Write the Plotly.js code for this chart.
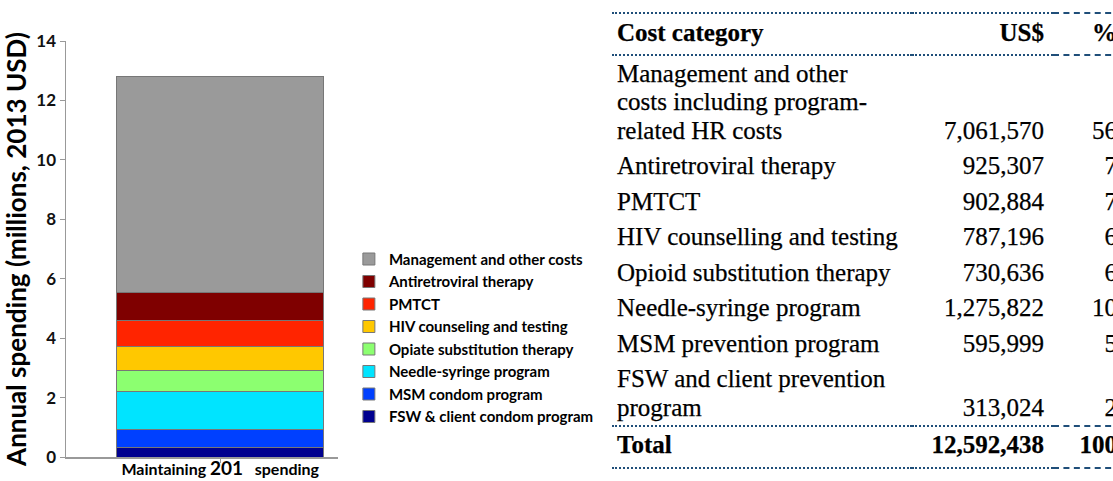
<!DOCTYPE html>
<html><head><meta charset="utf-8">
<script src="https://cdn.plot.ly/plotly-3.0.1.min.js"></script>
<style>
html,body{margin:0;padding:0;width:1113px;height:481px;overflow:hidden;background:#fff;}
#chart{position:absolute;left:0;top:0;width:640px;height:481px;}
#tblwrap{position:absolute;left:612px;top:12px;width:540px;background:#fff;}
#tbl{border-collapse:collapse;font-family:"Liberation Serif",serif;font-size:25px;color:#000;table-layout:fixed;width:520px;-webkit-text-stroke:0.25px #000;}
#tbl td,#tbl th{padding:4px 0 3px 0;line-height:28.5px;vertical-align:bottom;white-space:pre;box-sizing:border-box;}
#tbl th{font-weight:bold;padding-top:5px;padding-bottom:6px;}
#tbl .c1{padding-left:5px;text-align:left;}
#tbl .c2{padding-right:9px;text-align:right;}
#tbl .c3{padding-right:15px;text-align:right;}
#tbl tr.hd th,#tbl tr.tot td{border-top:2px dotted #1f4e79;border-bottom:2px dotted #1f4e79;}
#tbl tr.hd th.c3,#tbl tr.tot td.c3{border-top:2px dashed #1f4e79;border-bottom:2px dashed #1f4e79;}
#tbl tr.tot td{font-weight:bold;padding-bottom:7px;}
</style>
</head><body>
<div id="chart"></div>
<div id="tblwrap"><table id="tbl"><colgroup><col style="width:300px"><col style="width:141px"><col style="width:79px"></colgroup></table></div>
<script>
// ---- chart data (millions, 2013 USD), bottom to top ----
const scenario = ["Maintaining 201 spending"];
const seriesNames = ["FSW & client condom program","MSM condom program","Needle-syringe program","Opiate substitution therapy","HIV counseling and testing","PMTCT","Antiretroviral therapy","Management and other costs"];
const seriesValues = [0.31, 0.60, 1.28, 0.73, 0.79, 0.90, 0.93, 7.26];
const seriesColors = ["#00008f","#0040ff","#00e4ff","#8cff70","#ffc800","#ff2400","#7f0000","#9a9a9a"];
const yTicks = [0,2,4,6,8,10,12,14];

// ---- table data ----
const tableHeader = ["Cost category","US$","%"];
const tableCategories = ["Management and other\ncosts including program-\nrelated HR costs","Antiretroviral therapy","PMTCT","HIV counselling and testing","Opioid substitution therapy","Needle-syringe program","MSM prevention program","FSW and client prevention\nprogram"];
const tableUSD = ["7,061,570","925,307","902,884","787,196","730,636","1,275,822","595,999","313,024"];
const tablePct = ["56","7","7","6","6","10","5","2"];
const tableTotal = ["Total","12,592,438","100"];

const traces = seriesNames.map((n,i)=>({
  type:'bar', name:n, x:scenario, y:[seriesValues[i]], width:[1],
  legendgroup:n, legendrank: 100 - i,
  marker:{color:seriesColors[i], line:{color:'#777', width:1}},
  hoverinfo:'skip'
}));

const layout = {
  width:640, height:481,
  margin:{l:66, r:302, t:41, b:24},
  barmode:'stack',
  paper_bgcolor:'#fff', plot_bgcolor:'#fff',
  showlegend:true,
  legend:{x:1.04, xanchor:'left', y:0.515, yanchor:'top', traceorder:'normal', tracegroupgap:2,
    bgcolor:'rgba(0,0,0,0)', font:{family:'Lato', size:15, weight:'bold', color:'#000'}},
  xaxis:{type:'category', range:[-0.744,0.568], showline:true, linecolor:'#999', linewidth:1.5,
    ticks:'outside', ticklen:4, tickcolor:'#999', showgrid:false, zeroline:false,
    ticklabelstandoff:-7,
    tickvals:scenario,
    ticktext:[scenario[0].replace('201 ', "<span style='font-size:19px'>201</span>\u00a0\u00a0 ")],
    tickfont:{family:'Lato', size:16, weight:'bold', color:'#000'}},
  yaxis:{range:[0,14], tickvals:yTicks, showline:true, linecolor:'#999', linewidth:1.5,
    ticks:'outside', ticklen:5, tickcolor:'#999', showgrid:false, zeroline:false,
    tickfont:{family:'Lato', size:17, weight:'bold', color:'#111'},
    title:{text:'Annual spending (millions, 2013 USD)', standoff:6, font:{family:'Lato', size:26, weight:'bold', color:'#000'}}}
};
Plotly.newPlot('chart', traces, layout, {displayModeBar:false, staticPlot:true});

// build table
const tbl = document.getElementById('tbl');
function row(cells, tag, cls){
  const tr = document.createElement('tr'); if(cls) tr.className = cls;
  cells.forEach((c,i)=>{const td=document.createElement(tag); td.className='c'+(i+1); td.textContent=c; tr.appendChild(td);});
  tbl.appendChild(tr);
}
row(tableHeader,'th','hd');
tableCategories.forEach((c,i)=>row([c, tableUSD[i], tablePct[i]],'td'));
row(tableTotal,'td','tot');
</script>
</body></html>
